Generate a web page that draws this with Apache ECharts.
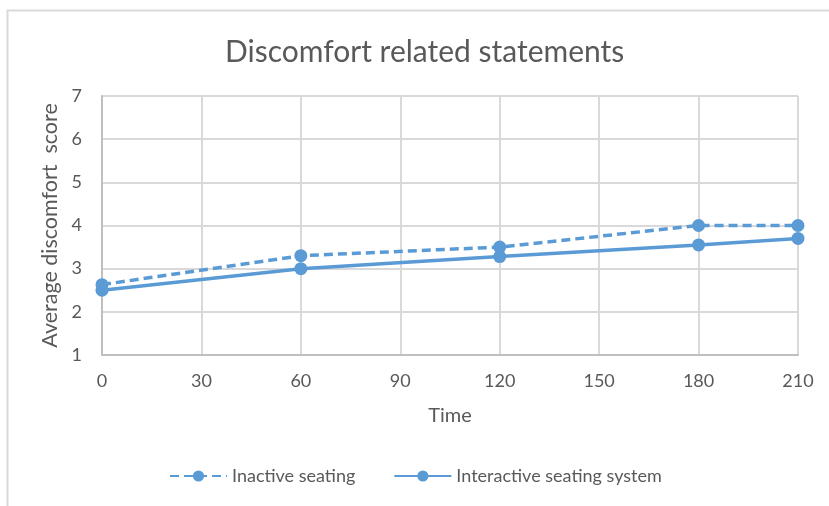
<!DOCTYPE html>
<html>
<head>
<meta charset="utf-8">
<script src="https://cdn.jsdelivr.net/npm/echarts@6/dist/echarts.min.js"></script>
<style>
  html, body { margin: 0; padding: 0; background: #fff; }
  #chart { width: 829px; height: 506px; }
</style>
</head>
<body>
<div id="chart"></div>
<script>
// Minutes of sitting at which the discomfort questionnaire was taken
const timePoints = [0, 60, 120, 180, 210];
// Average discomfort score per condition
const inactiveSeating = [2.63, 3.3, 3.5, 4.0, 4.0];
const interactiveSeating = [2.5, 3.0, 3.28, 3.55, 3.7];
const seriesNames = ['Inactive seating', 'Interactive seating system'];

const fontFamily = 'Lato, "Open Sans", sans-serif';
const textColor = '#595959';
const lineColor = '#5b9bd5';

const pairs = (xs, ys) => xs.map((x, i) => [x, ys[i]]);

const chart = echarts.init(document.getElementById('chart'), null, { renderer: 'canvas' });
chart.setOption({
  animation: false,
  backgroundColor: '#fff',
  textStyle: { fontFamily: fontFamily, color: textColor },
  title: {
    text: 'Discomfort related statements',
    left: 220,
    top: 32,
    textStyle: { fontFamily: fontFamily, fontSize: 30, fontWeight: 'normal', color: textColor }
  },
  graphic: [{
    type: 'rect',
    shape: { x: 7.5, y: 10.5, width: 900, height: 600 },
    style: { fill: 'none', stroke: '#d9d9d9', lineWidth: 2 },
    silent: true
  }],
  grid: { left: 102, right: 31, top: 96, bottom: 151 },
  legend: {
    bottom: 16,
    left: 164,
    itemGap: 38,
    itemWidth: 57,
    itemHeight: 14,
    textStyle: { fontFamily: fontFamily, fontSize: 18, color: textColor },
    data: seriesNames
  },
  xAxis: {
    type: 'value',
    min: 0,
    max: 210,
    interval: 30,
    name: 'Time',
    nameLocation: 'middle',
    nameGap: 51,
    nameTextStyle: { fontFamily: fontFamily, fontSize: 20, color: textColor },
    axisLine: { lineStyle: { color: '#bfbfbf', width: 2 } },
    axisTick: { show: false },
    axisLabel: { fontSize: 18, color: textColor, margin: 17 },
    splitLine: { show: true, lineStyle: { color: '#d9d9d9', width: 2 } }
  },
  yAxis: {
    type: 'value',
    min: 1,
    max: 7,
    interval: 1,
    name: 'Average discomfort  score',
    nameLocation: 'middle',
    nameGap: 39,
    nameTextStyle: { fontFamily: fontFamily, fontSize: 21.5, color: textColor },
    axisLine: { show: true, lineStyle: { color: '#bfbfbf', width: 2 } },
    axisTick: { show: false },
    axisLabel: { fontSize: 18, color: textColor, margin: 20 },
    splitLine: { show: true, lineStyle: { color: '#d9d9d9', width: 2 } }
  },
  series: [
    {
      name: seriesNames[0],
      type: 'line',
      data: pairs(timePoints, inactiveSeating),
      symbol: 'circle',
      symbolSize: 13,
      itemStyle: { color: lineColor },
      lineStyle: { color: lineColor, width: 3.5, type: [9, 5] },
      z: 3
    },
    {
      name: seriesNames[1],
      type: 'line',
      data: pairs(timePoints, interactiveSeating),
      symbol: 'circle',
      symbolSize: 13,
      itemStyle: { color: lineColor },
      lineStyle: { color: lineColor, width: 3.5 },
      z: 4
    }
  ]
});
</script>
</body>
</html>
